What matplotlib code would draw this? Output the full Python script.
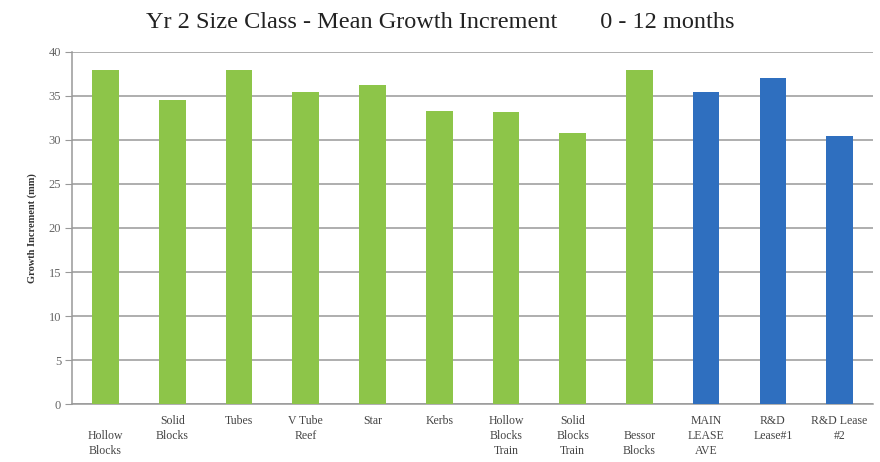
import numpy as np
import matplotlib.pyplot as plt

# mean growth increment per site, 0-12 months
sites = ['\nHollow\nBlocks', 'Solid\nBlocks', 'Tubes', 'V Tube\nReef', 'Star', 'Kerbs',
         'Hollow\nBlocks\nTrain', 'Solid\nBlocks\nTrain', '\nBessor\nBlocks',
         'MAIN\nLEASE\nAVE', 'R&D\nLease#1', 'R&D Lease\n#2']
growth = [38.0, 34.6, 38.0, 35.5, 36.3, 33.3, 33.2, 30.8, 37.9, 35.5, 37.0, 30.4]
colours = ['#8dc549'] * 9 + ['#2f6fbf'] * 3

plt.rcParams['font.family'] = ['Liberation Serif', 'DejaVu Serif']

fig = plt.figure(figsize=(8.8, 4.62), dpi=100)
ax = fig.add_axes([0.082, 0.1255, 0.91, 0.762])

x = np.arange(len(sites))
ax.bar(x, growth, width=0.4, color=colours, zorder=3)

ax.set_xlim(-0.5, len(sites) - 0.5)
ax.set_ylim(0, 40)
ax.set_yticks(np.arange(0, 41, 5))
ax.yaxis.grid(True, color='#999999', linewidth=1.1, zorder=0)
ax.set_xticks(x)
ax.set_xticklabels(sites, fontsize=8.5, color='#444444', va='top', linespacing=1.33)
ax.tick_params(axis='x', length=0, pad=8)
ax.tick_params(axis='y', length=5, color='#999999', labelsize=9, labelcolor='#666666', pad=3)

for s in ['top', 'right']:
    ax.spines[s].set_visible(False)
for s in ['left', 'bottom']:
    ax.spines[s].set_color('#999999')
    ax.spines[s].set_linewidth(1.1)

ax.set_ylabel('Growth Increment (mm)', fontsize=7.5, color='#333333', fontweight='bold', labelpad=8)

fig.text(0.5, 0.952, 'Yr 2 Size Class - Mean Growth Increment       0 - 12 months',
         ha='center', va='center', fontsize=17.5, color='#222222')

fig.savefig('out.png', dpi=100)
